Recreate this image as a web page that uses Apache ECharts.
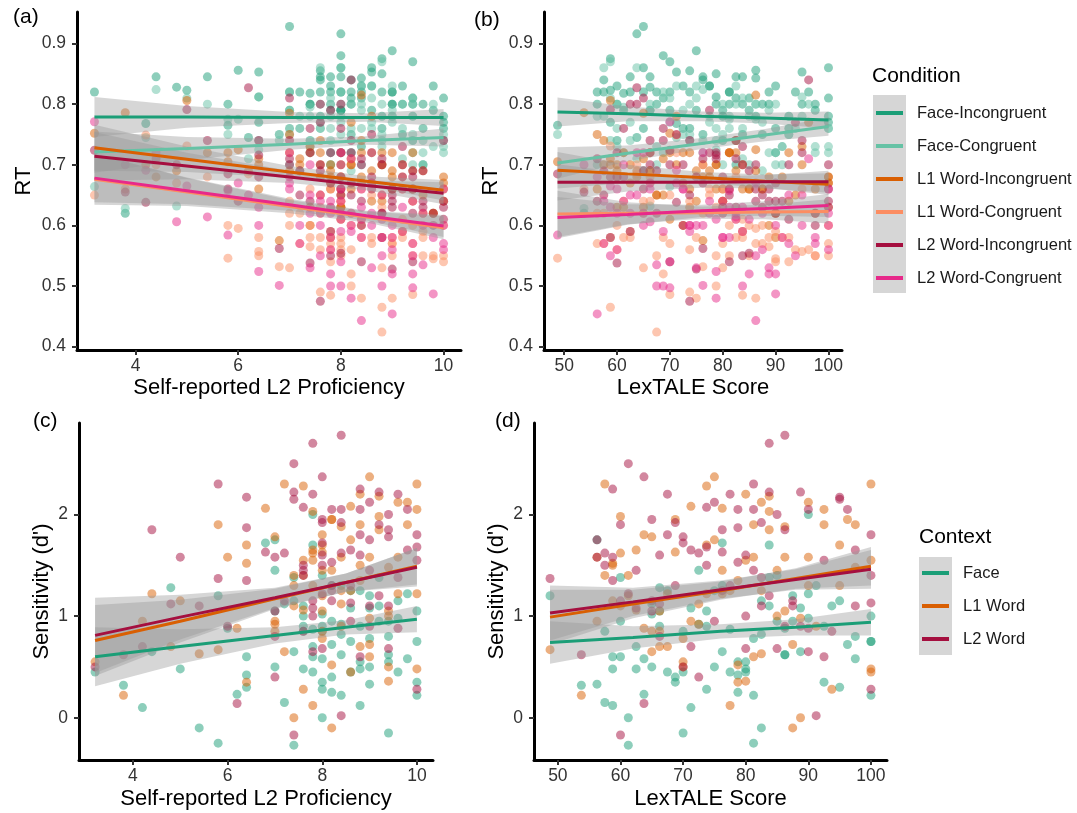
<!DOCTYPE html>
<html>
<head>
<meta charset="utf-8">
<script src="https://cdn.jsdelivr.net/npm/echarts@6.0.0/dist/echarts.min.js"></script>
<style>
  html, body { margin: 0; padding: 0; background: #fff; }
  #chart { width: 1077px; height: 813px; }
</style>
</head>
<body>
<div id="chart"></div>
<script>
// legend / colour names
const conditions = ['Face-Incongruent', 'Face-Congruent', 'L1 Word-Incongruent', 'L1 Word-Congruent', 'L2 Word-Incongruent', 'L2 Word-Congruent'];
const condColors = ['#1b9e77', '#66c2a5', '#d95f02', '#fc8d62', '#a50f3f', '#e7298a'];
const contexts = ['Face', 'L1 Word', 'L2 Word'];
const ctxColors = ['#1b9e77', '#d95f02', '#a50f3f'];

// participants: self-reported proficiency and LexTALE score
const proficiency = [3.2, 3.8, 4.2, 4.4, 4.8, 5, 5.4, 5.8, 5.8, 6, 6.2, 6.4, 6.4, 6.8, 7, 7, 7.2, 7.4, 7.4, 7.4,
  7.6, 7.6, 7.6, 7.8, 7.8, 7.8, 7.8, 8, 8, 8, 8, 8, 8.2, 8.2, 8.2, 8.4, 8.4, 8.4, 8.6, 8.6,
  8.8, 8.8, 8.8, 9, 9, 9.2, 9.2, 9.4, 9.4, 9.4, 9.6, 9.6, 9.8, 10, 10, 10, 7, 8.6, 9, 7.2,
  7.6, 7.8, 8, 8.2, 8.4, 8.6, 8.8, 9, 9.2, 9.4, 9.6, 10, 7.4, 7.8, 8, 8.2, 8.8, 9.4, 6.4, 7, 8, 8.4, 9, 9.8, 7.6];
const lextale = [70, 53.75, 71.25, 76.25, 66.25, 58.75, 82.5, 48.75, 81.25, 86.25, 63.75, 95, 78.75, 76.25, 65, 72.5, 57.5, 61.25, 88.75, 60,
  73.75, 62.5, 93.75, 83.75, 77.5, 80, 90, 63.75, 68.75, 66.25, 85, 61.25, 96.25, 78.75, 87.5, 86.25, 81.25, 91.25, 71.25, 100,
  58.75, 67.5, 92.5, 75, 56.25, 60, 83.75, 70, 80, 97.5, 67.5, 82.5, 90, 100, 73.75, 100, 56.25, 77.5, 88.75, 65,
  57.5, 60, 65, 68.75, 72.5, 75, 78.75, 81.25, 83.75, 86.25, 90, 92.5, 95, 62.5, 70, 76.25, 80, 85, 58.75, 66.25, 73.75, 82.5, 87.5, 97.5, 100];

// RT per condition (same participant order)
const rtFaceInc = [0.82, 0.62, 0.768, 0.845, 0.828, 0.823, 0.845, 0.765, 0.80, 0.856, 0.745, 0.853, 0.812, 0.75, 0.928, 0.76, 0.82, 0.818, 0.80, 0.74,
  0.855, 0.845, 0.82, 0.845, 0.83, 0.79, 0.72, 0.916, 0.88, 0.845, 0.79, 0.79, 0.82, 0.80, 0.75, 0.843, 0.82, 0.73, 0.853, 0.86,
  0.875, 0.82, 0.76, 0.888, 0.80, 0.83, 0.75, 0.87, 0.74, 0.80, 0.80, 0.70, 0.83, 0.81, 0.76, 0.77, 0.82, 0.83, 0.82, 0.76,
  0.84, 0.80, 0.86, 0.81, 0.83, 0.79, 0.85, 0.82, 0.80, 0.78, 0.76, 0.78, 0.80, 0.82, 0.79, 0.84, 0.78, 0.81, 0.77, 0.79, 0.82, 0.81, 0.80, 0.79, 0.78];
const rtFaceCon = [0.664, 0.628, 0.745, 0.824, 0.632, 0.81, 0.80, 0.75, 0.775, 0.775, 0.71, 0.812, 0.725, 0.74, 0.82, 0.75, 0.78, 0.795, 0.72, 0.73,
  0.80, 0.77, 0.76, 0.81, 0.78, 0.70, 0.70, 0.86, 0.82, 0.80, 0.78, 0.72, 0.80, 0.76, 0.69, 0.80, 0.76, 0.70, 0.83, 0.76,
  0.87, 0.73, 0.75, 0.83, 0.78, 0.80, 0.71, 0.81, 0.75, 0.72, 0.70, 0.74, 0.80, 0.73, 0.74, 0.72, 0.70, 0.77, 0.79, 0.69,
  0.86, 0.76, 0.82, 0.72, 0.79, 0.81, 0.74, 0.78, 0.76, 0.80, 0.72, 0.75, 0.78, 0.74, 0.77, 0.72, 0.80, 0.70, 0.74, 0.79, 0.75, 0.83, 0.77, 0.73, 0.76];
const rtL1Inc = [0.752, 0.786, 0.70, 0.68, 0.69, 0.806, 0.72, 0.705, 0.72, 0.725, 0.69, 0.70, 0.66, 0.575, 0.785, 0.72, 0.70, 0.72, 0.60, 0.63,
  0.72, 0.70, 0.65, 0.70, 0.68, 0.66, 0.58, 0.68, 0.65, 0.72, 0.66, 0.63, 0.77, 0.70, 0.66, 0.815, 0.72, 0.68, 0.78, 0.67,
  0.70, 0.65, 0.72, 0.69, 0.66, 0.70, 0.59, 0.72, 0.64, 0.66, 0.65, 0.69, 0.62, 0.67, 0.66, 0.68, 0.75, 0.69, 0.68, 0.71,
  0.74, 0.69, 0.63, 0.71, 0.67, 0.64, 0.70, 0.72, 0.66, 0.69, 0.62, 0.64, 0.73, 0.67, 0.61, 0.70, 0.64, 0.66, 0.71, 0.69, 0.63, 0.74, 0.66, 0.62, 0.68];
const rtL1Con = [0.65, 0.66, 0.749, 0.70, 0.67, 0.731, 0.68, 0.546, 0.60, 0.595, 0.685, 0.557, 0.55, 0.532, 0.53, 0.60, 0.57, 0.58, 0.565, 0.60,
  0.49, 0.58, 0.56, 0.485, 0.66, 0.57, 0.54, 0.70, 0.58, 0.68, 0.55, 0.64, 0.56, 0.50, 0.60, 0.48, 0.66, 0.58, 0.72, 0.57,
  0.465, 0.424, 0.58, 0.48, 0.57, 0.68, 0.58, 0.486, 0.66, 0.55, 0.55, 0.58, 0.545, 0.55, 0.64, 0.60, 0.62, 0.65, 0.58, 0.62,
  0.62, 0.56, 0.64, 0.52, 0.60, 0.58, 0.63, 0.55, 0.61, 0.57, 0.59, 0.54, 0.66, 0.59, 0.57, 0.62, 0.53, 0.60, 0.58, 0.64, 0.56, 0.61, 0.57, 0.55, 0.63];
const rtL2Inc = [0.724, 0.655, 0.638, 0.71, 0.70, 0.791, 0.74, 0.685, 0.66, 0.64, 0.827, 0.74, 0.716, 0.562, 0.81, 0.70, 0.65, 0.76, 0.64, 0.538,
  0.475, 0.80, 0.77, 0.55, 0.79, 0.63, 0.67, 0.80, 0.76, 0.72, 0.554, 0.68, 0.84, 0.72, 0.65, 0.70, 0.54, 0.64, 0.75, 0.66,
  0.58, 0.62, 0.70, 0.528, 0.64, 0.68, 0.70, 0.54, 0.68, 0.62, 0.69, 0.63, 0.62, 0.64, 0.74, 0.63, 0.71, 0.72, 0.66, 0.69,
  0.69, 0.72, 0.66, 0.74, 0.60, 0.68, 0.71, 0.65, 0.73, 0.66, 0.64, 0.61, 0.72, 0.59, 0.70, 0.67, 0.62, 0.69, 0.68, 0.74, 0.65, 0.71, 0.63, 0.60, 0.70];
const rtL2Con = [0.771, 0.70, 0.691, 0.72, 0.606, 0.665, 0.614, 0.584, 0.657, 0.67, 0.65, 0.60, 0.524, 0.501, 0.72, 0.66, 0.57, 0.70, 0.53, 0.62,
  0.60, 0.65, 0.55, 0.50, 0.64, 0.58, 0.52, 0.72, 0.50, 0.66, 0.61, 0.64, 0.71, 0.48, 0.62, 0.443, 0.63, 0.58, 0.67, 0.60,
  0.55, 0.50, 0.65, 0.60, 0.454, 0.66, 0.59, 0.497, 0.64, 0.57, 0.535, 0.62, 0.487, 0.56, 0.60, 0.66, 0.68, 0.62, 0.52, 0.60,
  0.64, 0.56, 0.62, 0.59, 0.66, 0.53, 0.61, 0.58, 0.63, 0.55, 0.60, 0.57, 0.65, 0.62, 0.54, 0.60, 0.58, 0.52, 0.63, 0.67, 0.59, 0.61, 0.56, 0.58, 0.62];

// sensitivity d' per context
const dFace = [0.45, 0.32, 0.10, 0.65, 1.28, 0.48, -0.10, 1.20, -0.25, 0.88, 0.23, 0.30, 0.42, 1.72, 0.50, 1.45, 0.15, -0.27, 0.65, 1.38,
  0.90, 0.48, 1.10, 1.70, 0.87, 0.45, 2.00, 0.58, 0.35, 0.90, 1.40, 0.00, 0.72, 0.25, 0.95, 0.62, 0.22, 1.30, 1.08, 0.75,
  0.12, 1.25, 0.90, 0.50, 0.33, 0.95, 1.38, -0.15, 0.55, 0.80, 0.45, 1.15, 1.22, 0.22, 1.05, 0.75, 1.75, 0.45, 1.08, 1.12,
  0.85, 0.60, 1.02, 0.40, 0.92, 1.25, 0.55, 0.78, 1.10, 0.62, 0.98, 0.35, 1.15, 0.70, 0.85, 1.30, 0.48, 0.95, 0.60, 1.05, 0.28, 0.82, 1.20, 0.58, 1.00];
const dL1 = [0.55, 0.22, 0.95, 1.22, 0.70, 1.15, 0.63, 0.67, 1.90, 1.58, 0.88, 1.70, 0.35, 2.06, 1.78, 0.92, 2.30, 1.40, 0.00, 1.10,
  2.28, 1.06, 0.28, 2.03, 0.12, 1.55, 1.30, 1.80, 1.63, 1.05, 1.45, 1.20, 1.95, 0.52, -0.10, 1.88, 1.58, 0.90, 2.08, 0.45,
  1.50, 0.70, 1.90, 2.37, 1.58, 1.98, 2.18, 0.50, 0.36, 1.48, 1.22, 2.12, 2.12, 2.30, 1.22, 0.48, 0.95, 1.25, 0.98, 0.65,
  1.40, 1.62, 0.85, 1.95, 1.12, 1.75, 1.35, 0.60, 1.85, 1.05, 1.58, 2.05, 1.30, 1.65, 0.78, 1.45, 2.20, 1.00, 1.52, 0.85, 1.70, 1.25, 0.72, 1.90, 1.55];
const dL2 = [0.50, 0.62, 0.70, 1.85, 1.12, 1.58, 1.10, 1.37, 2.30, 0.90, 0.14, 2.17, 1.87, 1.63, 1.05, 0.40, 1.62, 2.50, 2.22, -0.17,
  2.07, 1.45, 0.85, 2.70, 2.20, 1.00, 0.65, 2.37, 1.92, 1.60, 0.68, 1.22, 2.05, 1.53, 1.15, 2.78, 2.05, 0.02, 1.65, 1.13,
  2.25, 1.80, 0.60, 2.12, 1.75, 1.90, 2.22, 1.78, 0.68, 1.10, 2.20, 1.38, 2.05, 1.80, 1.68, 0.28, 1.58, 1.30, 0.90, 1.15,
  1.50, 1.15, 1.95, 1.30, 1.62, 0.95, 2.05, 1.45, 1.20, 1.85, 0.88, 1.55, 2.15, 1.08, 1.72, 1.25, 1.60, 2.00, 1.35, 0.80, 1.50, 1.92, 1.10, 1.65, 1.40];

// fitted lines and half-width of the grey bands, read at these x positions
const bandXProf = [3.2, 5, 7, 8.5, 10];
const bandXLex = [48.75, 62, 76, 88, 100];

const fitRtProf = [
  [0.779, 0.779, 0.778, 0.778, 0.778],
  [0.721, 0.727, 0.734, 0.740, 0.745],
  [0.728, 0.709, 0.688, 0.673, 0.658],
  [0.676, 0.655, 0.631, 0.614, 0.596],
  [0.714, 0.698, 0.680, 0.666, 0.653],
  [0.678, 0.657, 0.634, 0.616, 0.599]];
const hwRtProf = [
  [0.033, 0.018, 0.009, 0.007, 0.014],
  [0.034, 0.019, 0.009, 0.007, 0.015],
  [0.038, 0.021, 0.010, 0.008, 0.017],
  [0.042, 0.023, 0.011, 0.009, 0.019],
  [0.040, 0.022, 0.010, 0.008, 0.018],
  [0.040, 0.022, 0.010, 0.008, 0.018]];

const fitRtLex = [
  [0.787, 0.784, 0.780, 0.777, 0.774],
  [0.703, 0.719, 0.735, 0.749, 0.763],
  [0.691, 0.685, 0.679, 0.673, 0.668],
  [0.619, 0.620, 0.621, 0.622, 0.623],
  [0.671, 0.671, 0.671, 0.672, 0.672],
  [0.613, 0.618, 0.624, 0.628, 0.633]];
const hwRtLex = [
  [0.024, 0.012, 0.008, 0.009, 0.014],
  [0.026, 0.013, 0.009, 0.010, 0.015],
  [0.030, 0.015, 0.009, 0.011, 0.018],
  [0.038, 0.018, 0.010, 0.012, 0.020],
  [0.030, 0.015, 0.009, 0.011, 0.018],
  [0.034, 0.017, 0.010, 0.012, 0.019]];

const fitDProf = [
  [0.60, 0.70, 0.81, 0.89, 0.97],
  [0.76, 0.95, 1.17, 1.33, 1.49],
  [0.81, 0.99, 1.18, 1.33, 1.48]];
const hwDProf = [
  [0.29, 0.17, 0.08, 0.07, 0.13],
  [0.35, 0.21, 0.10, 0.09, 0.18],
  [0.37, 0.22, 0.10, 0.09, 0.19]];

const fitDLex = [
  [0.74, 0.79, 0.85, 0.89, 0.94],
  [0.99, 1.12, 1.25, 1.37, 1.49],
  [1.03, 1.14, 1.26, 1.36, 1.46]];
const hwDLex = [
  [0.21, 0.11, 0.07, 0.08, 0.13],
  [0.27, 0.14, 0.09, 0.10, 0.19],
  [0.27, 0.14, 0.09, 0.10, 0.19]];

// axis ticks
const ticksProf = [4, 6, 8, 10];
const ticksLex = [50, 60, 70, 80, 90, 100];
const ticksRt = [0.4, 0.5, 0.6, 0.7, 0.8, 0.9];
const ticksD = [0, 1, 2];

const FONT = "'Liberation Sans', Arial, sans-serif";

function xAxis(idx, min, max, ticks, name, gap) {
  return {
    type: 'value', gridIndex: idx, min: min, max: max,
    name: name, nameLocation: 'middle', nameGap: gap,
    nameTextStyle: { fontSize: 22, color: '#000', fontFamily: FONT },
    axisLine: { show: true, onZero: false, lineStyle: { color: '#000', width: 3 } },
    axisTick: { show: true, length: 5, customValues: ticks, lineStyle: { color: '#333', width: 2 } },
    axisLabel: { fontSize: 17.5, color: '#333', fontFamily: FONT, margin: 7, customValues: ticks },
    splitLine: { show: false }
  };
}

function yAxis(idx, min, max, ticks, name, gap, fmt) {
  return {
    type: 'value', gridIndex: idx, min: min, max: max,
    name: name, nameLocation: 'middle', nameGap: gap, nameRotate: 90,
    nameTextStyle: { fontSize: 22, color: '#000', fontFamily: FONT },
    axisLine: { show: true, onZero: false, lineStyle: { color: '#000', width: 3 } },
    axisTick: { show: true, length: 5, customValues: ticks, lineStyle: { color: '#333', width: 2 } },
    axisLabel: { fontSize: 17.5, color: '#333', fontFamily: FONT, margin: 11, customValues: ticks, formatter: fmt },
    splitLine: { show: false }
  };
}

function bandSeries(idx, xs, fit, hw) {
  return {
    type: 'custom', xAxisIndex: idx, yAxisIndex: idx, silent: true, z: 3,
    data: [[xs[0], fit[0]]],
    renderItem: function (params, api) {
      const pts = [];
      for (let i = 0; i < xs.length; i++) pts.push(api.coord([xs[i], fit[i] + hw[i]]));
      for (let i = xs.length - 1; i >= 0; i--) pts.push(api.coord([xs[i], fit[i] - hw[i]]));
      return { type: 'polygon', shape: { points: pts }, style: { fill: 'rgba(153,153,153,0.4)' } };
    }
  };
}

function panel(idx, xs, ySets, names, colors, bandX, fits, hws) {
  const out = [];
  ySets.forEach(function (ys, k) {
    out.push({
      type: 'scatter', name: names[k] + ' points', xAxisIndex: idx, yAxisIndex: idx, silent: true, z: 2,
      data: xs.map(function (x, i) { return [x, ys[i]]; }),
      symbolSize: 9, itemStyle: { color: colors[k], opacity: 0.5 }
    });
  });
  fits.forEach(function (fit, k) {
    out.push(bandSeries(idx, bandX, fit, hws[k]));
    out.push({
      type: 'line', name: names[k], xAxisIndex: idx, yAxisIndex: idx, z: 3,
      data: bandX.map(function (x, i) { return [x, fit[i]]; }),
      showSymbol: false, silent: true,
      lineStyle: { color: colors[k], width: 3 }, itemStyle: { color: colors[k] }
    });
  });
  return out;
}

const rtSets = [rtFaceInc, rtFaceCon, rtL1Inc, rtL1Con, rtL2Inc, rtL2Con];
const dSets = [dFace, dL1, dL2];

const series = [].concat(
  panel(0, proficiency, rtSets, conditions, condColors, bandXProf, fitRtProf, hwRtProf),
  panel(1, lextale, rtSets, conditions, condColors, bandXLex, fitRtLex, hwRtLex),
  panel(2, proficiency, dSets, contexts, ctxColors, bandXProf, fitDProf, hwDProf),
  panel(3, lextale, dSets, contexts, ctxColors, bandXLex, fitDLex, hwDLex)
);

function label(text, x, y, size) {
  return { type: 'text', x: x, y: y, silent: true,
    style: { text: text, fill: '#000', font: size + 'px ' + FONT, verticalAlign: 'middle' } };
}

const chart = echarts.init(document.getElementById('chart'), null, { renderer: 'canvas' });
chart.setOption({
  backgroundColor: '#fff',
  animation: false,
  textStyle: { fontFamily: FONT },
  grid: [
    { left: 77, top: 12, width: 384, height: 338 },
    { left: 544, top: 12, width: 298, height: 338 },
    { left: 79, top: 423, width: 354, height: 337 },
    { left: 534, top: 423, width: 353, height: 337 }
  ],
  xAxis: [
    xAxis(0, 2.86, 10.34, ticksProf, 'Self-reported L2 Proficiency', 27),
    xAxis(1, 46.19, 102.56, ticksLex, 'LexTALE Score', 27),
    xAxis(2, 2.86, 10.34, ticksProf, 'Self-reported L2 Proficiency', 28),
    xAxis(3, 46.19, 102.56, ticksLex, 'LexTALE Score', 28)
  ],
  yAxis: [
    yAxis(0, 0.3945, 0.952, ticksRt, 'RT', 42, function (v) { return v.toFixed(1); }),
    yAxis(1, 0.3945, 0.952, ticksRt, 'RT', 42, function (v) { return v.toFixed(1); }),
    yAxis(2, -0.416, 2.9, ticksD, "Sensitivity (d')", 26),
    yAxis(3, -0.416, 2.9, ticksD, "Sensitivity (d')", 26)
  ],
  legend: [
    {
      data: conditions, orient: 'vertical', left: 876, top: 103, padding: 0,
      itemWidth: 27, itemHeight: 4, itemGap: 13, icon: 'rect', selectedMode: false,
      textStyle: { fontSize: 16.5, color: '#1a1a1a', lineHeight: 20, padding: [0, 0, 0, 9] }
    },
    {
      data: contexts, orient: 'vertical', left: 922, top: 563, padding: 0,
      itemWidth: 27, itemHeight: 4, itemGap: 13, icon: 'rect', selectedMode: false,
      textStyle: { fontSize: 16.5, color: '#1a1a1a', lineHeight: 20, padding: [0, 0, 0, 9] }
    }
  ],
  graphic: [
    { type: 'rect', silent: true, z: -1, shape: { x: 873, y: 95, width: 33, height: 198 }, style: { fill: '#d6d6d6' } },
    { type: 'rect', silent: true, z: -1, shape: { x: 919, y: 557, width: 33, height: 98 }, style: { fill: '#d6d6d6' } },
    label('Condition', 872, 76, 21),
    label('Context', 919, 537, 21),
    label('(a)', 13, 17, 21),
    label('(b)', 474, 20, 21),
    label('(c)', 33, 421, 21),
    label('(d)', 495, 421, 21)
  ],
  series: series
});
</script>
</body>
</html>
